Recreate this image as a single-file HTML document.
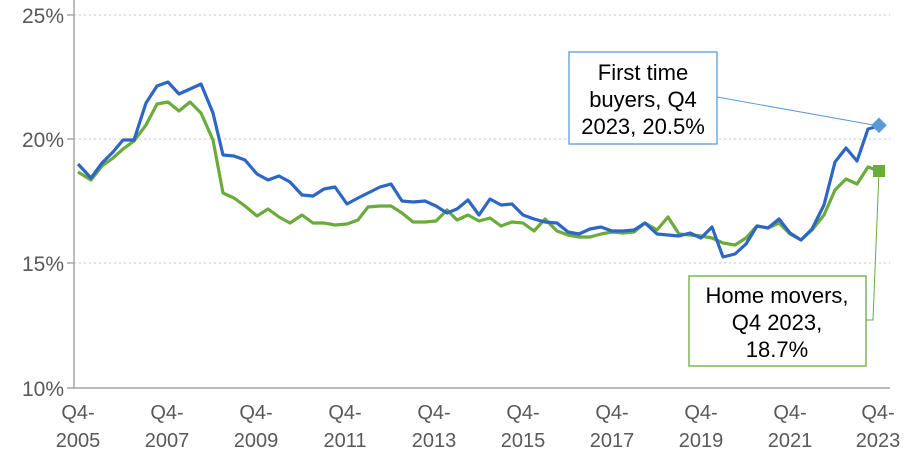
<!DOCTYPE html>
<html><head><meta charset="utf-8"><style>
body{margin:0;background:#fff;}
svg text{font-family:"Liberation Sans",Arial,sans-serif;fill:#595959;}
</style></head><body>
<svg width="914" height="455" viewBox="0 0 914 455" xmlns="http://www.w3.org/2000/svg">
<g stroke="#d0d0d0" stroke-width="1.3" stroke-dasharray="2,3">
<line x1="74" y1="15" x2="890" y2="15"/>
<line x1="74" y1="139" x2="890" y2="139"/>
<line x1="74" y1="263" x2="890" y2="263"/>
</g>
<line x1="74" y1="0" x2="74" y2="389" stroke="#a6a6a6" stroke-width="1.5"/>
<line x1="73" y1="388" x2="890" y2="388" stroke="#a6a6a6" stroke-width="1.5"/>
<g stroke="#a6a6a6" stroke-width="1.5">
<line x1="67" y1="15" x2="74" y2="15"/><line x1="67" y1="139" x2="74" y2="139"/><line x1="67" y1="263" x2="74" y2="263"/><line x1="67" y1="388" x2="74" y2="388"/>
</g>
<g font-size="21" text-anchor="end">
<text x="64" y="23">25%</text><text x="64" y="147">20%</text><text x="64" y="271">15%</text><text x="64" y="396">10%</text>
</g>
<g font-size="20" text-anchor="middle">
<text x="78" y="419">Q4-</text><text x="78" y="447">2005</text>
<text x="167" y="419">Q4-</text><text x="167" y="447">2007</text>
<text x="256" y="419">Q4-</text><text x="256" y="447">2009</text>
<text x="345" y="419">Q4-</text><text x="345" y="447">2011</text>
<text x="434" y="419">Q4-</text><text x="434" y="447">2013</text>
<text x="523" y="419">Q4-</text><text x="523" y="447">2015</text>
<text x="612" y="419">Q4-</text><text x="612" y="447">2017</text>
<text x="701" y="419">Q4-</text><text x="701" y="447">2019</text>
<text x="790" y="419">Q4-</text><text x="790" y="447">2021</text>
<text x="878" y="419">Q4-</text><text x="878" y="447">2023</text>
</g>
<polyline fill="none" stroke-width="3.2" stroke-linejoin="round" stroke="#6aab3c" points="78,172 91,180 102,166 113,158 123,149 134,141 146,125 157,104 168,102 179,111 190,102 201,113 213,140 223,193 234,198 245,206 257,216 268,209 279,217 290,223 302,215 313,223 324,223 335,225 347,224 358,220 368,207 380,206 391,206 402,213 413,222 425,222 436,221 447,210 457,220 468,215 479,221 490,218 501,226 512,222 523,223 534,231 545,219 557,231 568,235 579,237 590,237 601,234 612,232 623,233 634,232 645,223 657,230 668,217 679,234 690,235 701,236 712,238 723,243 735,245 746,238 757,226 768,228 779,223 790,234 801,240 812,230 824,215 835,190 846,179 857,184 868,167 879,171"/>
<polyline fill="none" stroke="#2e66c4" stroke-width="3.2" stroke-linejoin="round" points="78,164 91,178 102,163 113,152 123,140 134,140 146,103 157,86 168,82 179,94 190,89 201,84 213,113 223,155 234,156 245,160 257,174 268,180 279,176 290,182 302,195 313,196 324,189 335,187 347,204 358,198 368,193 380,187 391,184 402,201 413,202 425,201 436,206 447,213 457,209 468,200 479,215 490,199 501,205 512,204 523,215 534,219 545,222 557,223 568,232 579,234 590,229 601,227 612,231 623,231 634,230 645,223 657,234 668,235 679,236 690,233 701,238 712,227 723,257 735,254 746,244 757,226 768,228 779,219 790,233 801,240 812,229 824,205 835,162 846,148 857,161 868,129 879,126"/>
<line x1="717" y1="97" x2="879" y2="126" stroke="#5b9bd5" stroke-width="1"/>
<polyline fill="none" stroke="#6aab3c" stroke-width="1" points="866,320 873,320 879,171"/>
<rect x="873" y="120" width="11" height="11" fill="#5b9bd5" transform="rotate(45 879 126)"/>
<rect x="873" y="165" width="12" height="12" fill="#6aab3c"/>
<rect x="569" y="52" width="148" height="92" fill="#fff" stroke="#5b9bd5" stroke-width="1.3"/>
<g font-size="22" text-anchor="middle">
<text x="643" y="80" style="fill:#000">First time</text>
<text x="643" y="107" style="fill:#000">buyers, Q4</text>
<text x="643" y="134" style="fill:#000">2023, 20.5%</text>
</g>
<rect x="689" y="276" width="177" height="90" fill="#fff" stroke="#6aab3c" stroke-width="1.3"/>
<g font-size="22" text-anchor="middle">
<text x="777" y="303" style="fill:#000">Home movers,</text>
<text x="777" y="330" style="fill:#000">Q4 2023,</text>
<text x="777" y="357" style="fill:#000">18.7%</text>
</g>
</svg>
</body></html>
